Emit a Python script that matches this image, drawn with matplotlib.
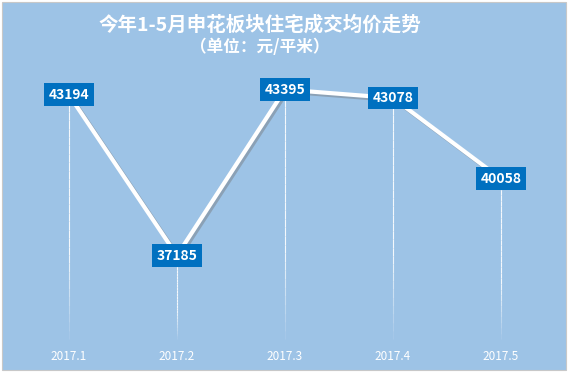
import matplotlib.pyplot as plt
import matplotlib.patheffects as pe
from matplotlib.patches import Rectangle
import numpy as np

plt.rcParams['font.family'] = ['Noto Sans CJK SC', 'DejaVu Sans']

months = ['2017.1', '2017.2', '2017.3', '2017.4', '2017.5']
prices = [43194, 37185, 43395, 43078, 40058]

bg = '#9DC3E6'
box = '#0070C0'

fig = plt.figure(figsize=(5.71, 3.74), dpi=100, facecolor='white')

# chart area background (spreadsheet grid shows around it)
fig.patches.append(Rectangle((2 / 571, 4 / 374), 564 / 571, 368 / 374,
                             transform=fig.transFigure, facecolor=bg,
                             edgecolor='#C8C8C8', linewidth=0.8, zorder=-10))

ax = fig.add_axes([15 / 571, 44 / 374, 540 / 571, 270 / 374])
ax.set_facecolor('none')
x = np.arange(len(months))
ax.set_xlim(-0.5, 4.5)
ax.set_ylim(34400, 44500)

# drop lines fading out toward the bottom
bottom = 34050
for xi, yi in zip(x, prices):
    ys = np.linspace(yi, bottom, 30)
    for k in range(len(ys) - 1):
        a = 0.9 if k < 18 else 0.9 * (29 - k) / 11
        ax.plot([xi, xi], [ys[k], ys[k + 1]], color='white', lw=0.8,
                alpha=a, solid_capstyle='butt', zorder=1, clip_on=False)

ax.plot(x, prices, color='white', lw=3, zorder=2,
        path_effects=[pe.SimpleLineShadow(offset=(1.5, -1.5), shadow_color='#707070', alpha=0.4),
                      pe.Normal()])

for xi, yi in zip(x, prices):
    ax.text(xi, yi, str(yi), ha='center', va='center', color='white',
            fontsize=10, fontweight='bold', zorder=3,
            bbox=dict(boxstyle='square,pad=0.32', facecolor=box, edgecolor='none'))

for xi, m in zip(x, months):
    ax.text(xi, -0.1, m, transform=ax.get_xaxis_transform(), ha='center',
            va='center', color='white', fontsize=8.5)

ax.set_xticks([])
ax.set_yticks([])
for s in ax.spines.values():
    s.set_visible(False)

fig.text(260 / 571, 1 - 25 / 374, '今年1-5月申花板块住宅成交均价走势', ha='center',
         va='center', color='white', fontsize=14, fontweight='bold')
fig.text(260 / 571, 1 - 47 / 374, '（单位：元/平米）', ha='center', va='center',
         color='white', fontsize=12, fontweight='bold')

fig.savefig('out.png', dpi=100, facecolor='white')
